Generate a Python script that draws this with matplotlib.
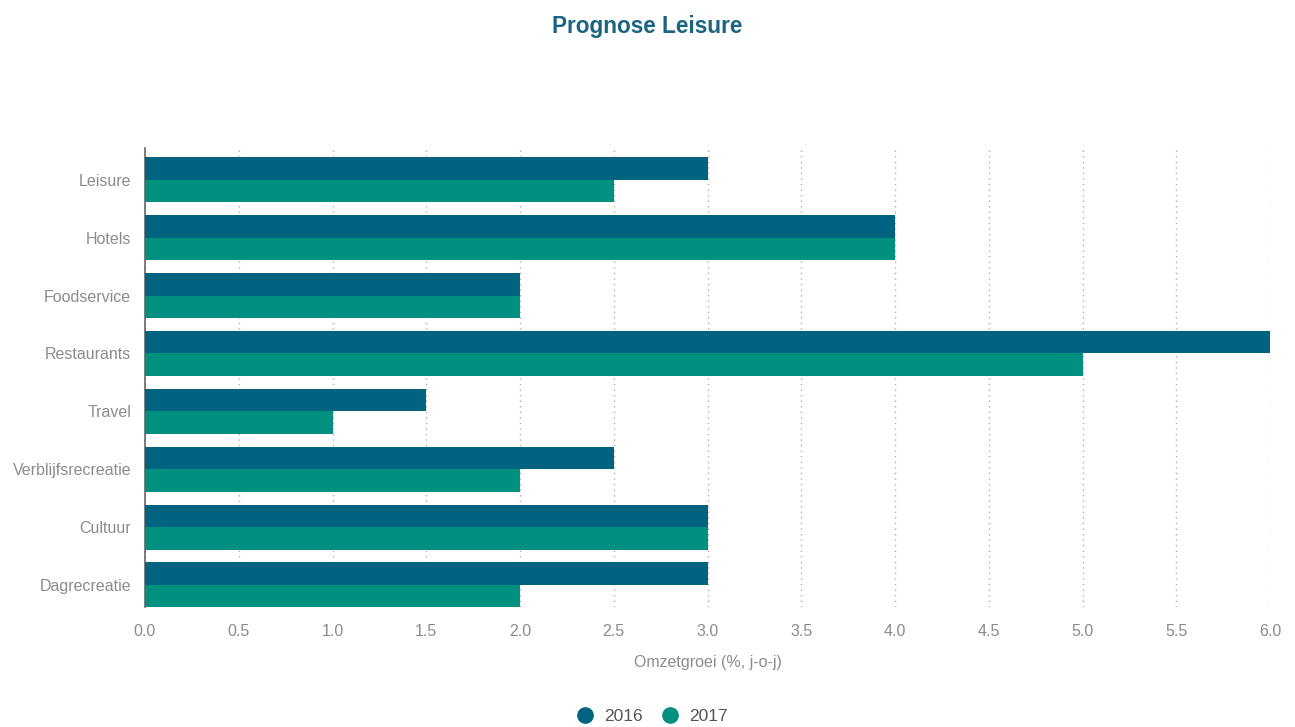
import numpy as np
import matplotlib.pyplot as plt
from matplotlib.lines import Line2D

# Data
categories = ['Leisure', 'Hotels', 'Foodservice', 'Restaurants', 'Travel',
              'Verblijfsrecreatie', 'Cultuur', 'Dagrecreatie']
values_2016 = [3.0, 4.0, 2.0, 6.0, 1.5, 2.5, 3.0, 3.0]
values_2017 = [2.5, 4.0, 2.0, 5.0, 1.0, 2.0, 3.0, 2.0]
series_names = ['2016', '2017']
x_ticks = [0.0, 0.5, 1.0, 1.5, 2.0, 2.5, 3.0, 3.5, 4.0, 4.5, 5.0, 5.5, 6.0]

c2016 = '#00637f'
c2017 = '#009080'
grey = '#8c8c8c'

plt.rcParams['font.family'] = ['Liberation Sans', 'DejaVu Sans']

fig = plt.figure(figsize=(12.95, 7.27), dpi=100)
ax = fig.add_axes([145 / 1295, 1 - 607 / 727, (1270 - 145) / 1295, (607 - 148) / 727])

y = np.arange(len(categories))
h = 0.39
ax.barh(y - h / 2, values_2016, height=h, color=c2016, zorder=3)
ax.barh(y + h / 2, values_2017, height=h, color=c2017, zorder=3)

ax.set_ylim(7.38, -0.55)
ax.set_xlim(0, 6.0)
ax.set_yticks(y)
ax.set_yticklabels(categories)
ax.set_xticks(x_ticks)
ax.set_xticklabels([f'{t:.1f}' for t in x_ticks])

ax.tick_params(axis='both', colors=grey, labelsize=11.5, length=0)
ax.tick_params(axis='x', pad=12)
ax.tick_params(axis='y', pad=10)

ax.grid(axis='x', linestyle=(0, (1, 3)), color='#b0b0b0', linewidth=1, zorder=0)
for s in ['top', 'right', 'bottom']:
    ax.spines[s].set_visible(False)
ax.spines['left'].set_color('#666666')
ax.spines['left'].set_linewidth(1.2)

ax.set_xlabel('Omzetgroei (%, j-o-j)', color=grey, fontsize=11.5, labelpad=12)

fig.text(0.5, 1 - 27 / 727, 'Prognose Leisure', ha='center', va='center',
         fontsize=16.3, fontweight='bold', color='#1a6482')

handles = [Line2D([], [], marker='o', linestyle='', markersize=11, color=c)
           for c in [c2016, c2017]]
fig.legend(handles, series_names, loc='center', bbox_to_anchor=(0.5, 1 - 716 / 727),
           ncol=2, frameon=False, fontsize=12.5, handletextpad=0.1, columnspacing=0.6,
           labelcolor='#555555')

fig.savefig('out.png', dpi=100)
